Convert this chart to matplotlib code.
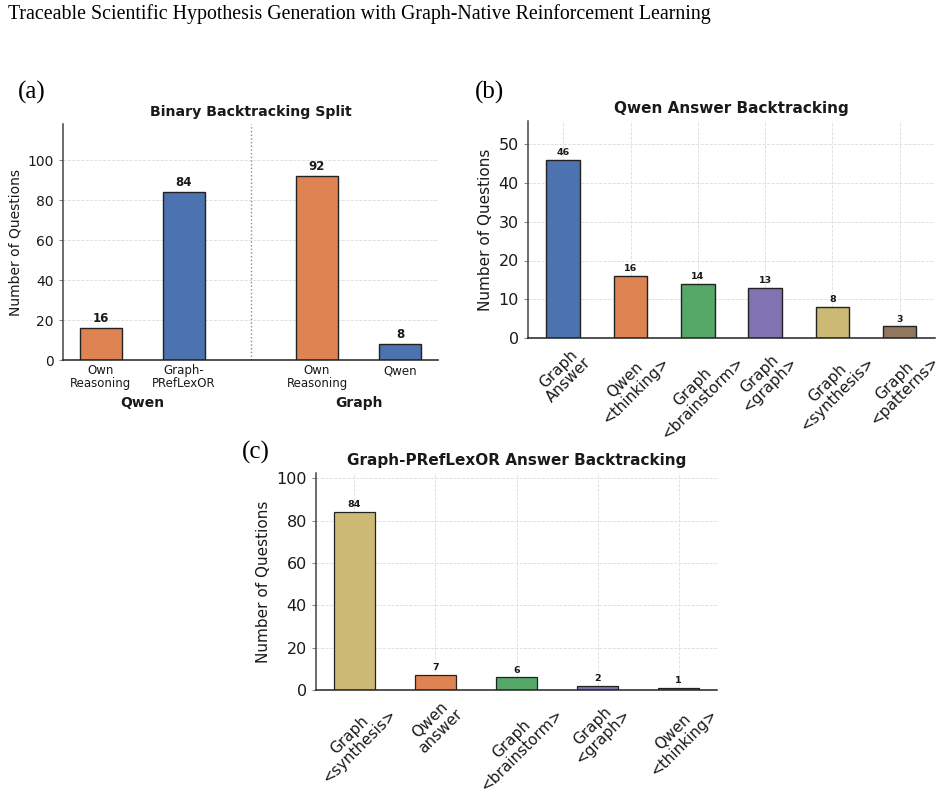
import matplotlib.pyplot as plt
import matplotlib.transforms as mtransforms

# palette (seaborn deep)
BLUE = '#4C72B0'
ORANGE = '#DD8452'
GREEN = '#55A868'
PURPLE = '#8172B3'
YELLOW = '#CCB974'
BROWN = '#937860'

# (a) binary split
a_labels = ['Own\nReasoning', 'Graph-\nPRefLexOR', 'Own\nReasoning', 'Qwen']
a_values = [16, 84, 92, 8]
a_pos = [0, 1, 2.6, 3.6]
a_colors = [ORANGE, BLUE, ORANGE, BLUE]
a_groups = ['Qwen', 'Graph']

# (b) qwen answer backtracking
b_labels = ['Graph\nAnswer', 'Qwen\n<thinking>', 'Graph\n<brainstorm>',
            'Graph\n<graph>', 'Graph\n<synthesis>', 'Graph\n<patterns>']
b_values = [46, 16, 14, 13, 8, 3]
b_colors = [BLUE, ORANGE, GREEN, PURPLE, YELLOW, BROWN]

# (c) graph-preflexor answer backtracking
c_labels = ['Graph\n<synthesis>', 'Qwen\nanswer', 'Graph\n<brainstorm>',
            'Graph\n<graph>', 'Qwen\n<thinking>']
c_values = [84, 7, 6, 2, 1]
c_colors = [YELLOW, ORANGE, GREEN, PURPLE, ORANGE]

plt.rcParams['text.color'] = '#1a1a1a'
plt.rcParams['axes.labelcolor'] = '#1a1a1a'
plt.rcParams['xtick.color'] = '#1a1a1a'
plt.rcParams['ytick.color'] = '#1a1a1a'

W, H = 943, 794
fig = plt.figure(figsize=(W / 100, H / 100), dpi=100)


def px_axes(left, top, right, bottom):
    return fig.add_axes([left / W, 1 - bottom / H, (right - left) / W, (bottom - top) / H])


def style(ax, both_grid):
    for s in ['top', 'right']:
        ax.spines[s].set_visible(False)
    ax.spines['left'].set_color('#444444')
    ax.spines['bottom'].set_color('#222222')
    ax.spines['left'].set_linewidth(1.1)
    ax.spines['bottom'].set_linewidth(1.1)
    ax.set_axisbelow(True)
    ax.grid(axis='both' if both_grid else 'y', linestyle='--', color='#dddddd', linewidth=0.6)


fig.text(8 / W, 1 - 14 / H, 'Traceable Scientific Hypothesis Generation with Graph-Native Reinforcement Learning',
         family='Liberation Serif', fontsize=14.3, va='center', ha='left', color='black')

# ---- (a)
ax = px_axes(63, 124, 438, 360)
ax.bar(a_pos, a_values, width=0.5, color=a_colors, edgecolor='#222222', linewidth=1)
for x, v in zip(a_pos, a_values):
    ax.text(x, v + 1.5, str(v), ha='center', va='bottom', fontsize=8.5, fontweight='bold')
ax.set_ylim(0, 118)
ax.set_yticks([0, 20, 40, 60, 80, 100])
ax.set_xticks(a_pos)
ax.set_xticklabels(a_labels, fontsize=8.5, linespacing=1.0)
ax.tick_params(axis='y', labelsize=10, length=3, color='#888888')
ax.tick_params(axis='x', length=0, pad=3)
ax.set_ylabel('Number of Questions', fontsize=10)
ax.set_title('Binary Backtracking Split', fontsize=10.2, fontweight='bold')
ax.axvline(1.8, color='#888888', linestyle=':', linewidth=1)
style(ax, False)
trans = mtransforms.blended_transform_factory(ax.transData, ax.transAxes)
ax.text((a_pos[0] + a_pos[1]) / 2, -0.182, a_groups[0], transform=trans, ha='center', va='center',
        fontsize=10, fontweight='bold')
ax.text((a_pos[2] + a_pos[3]) / 2, -0.182, a_groups[1], transform=trans, ha='center', va='center',
        fontsize=10, fontweight='bold')
fig.text(18 / W, 1 - 92 / H, '(a)', family='Liberation Serif', fontsize=18, va='center', ha='left',
         color='black')

# ---- (b)
ax = px_axes(528, 121, 935, 338)
xb = range(len(b_values))
ax.bar(xb, b_values, width=0.5, color=b_colors, edgecolor='#222222', linewidth=1)
for x, v in zip(xb, b_values):
    ax.text(x, v + 0.7, str(v), ha='center', va='bottom', fontsize=6.8, fontweight='bold')
ax.set_ylim(0, 56)
ax.set_yticks([0, 10, 20, 30, 40, 50])
ax.set_xticks(list(xb))
ax.set_xticklabels(b_labels, rotation=45, ha='center', fontsize=11, linespacing=1.0)
ax.tick_params(axis='y', labelsize=11.5, length=3, color='#888888')
ax.tick_params(axis='x', length=0, pad=4)
ax.set_ylabel('Number of Questions', fontsize=11)
ax.set_title('Qwen Answer Backtracking', fontsize=11, fontweight='bold')
style(ax, True)
fig.text(475 / W, 1 - 92 / H, '(b)', family='Liberation Serif', fontsize=18, va='center', ha='left',
         color='black')

# ---- (c)
ax = px_axes(316, 473, 717, 690)
xc = range(len(c_values))
ax.bar(xc, c_values, width=0.5, color=c_colors, edgecolor='#222222', linewidth=0.9)
for x, v in zip(xc, c_values):
    ax.text(x, v + 1.3, str(v), ha='center', va='bottom', fontsize=6.8, fontweight='bold')
ax.set_ylim(0, 102.5)
ax.set_yticks([0, 20, 40, 60, 80, 100])
ax.set_xticks(list(xc))
ax.set_xticklabels(c_labels, rotation=45, ha='center', fontsize=11, linespacing=1.0)
ax.tick_params(axis='y', labelsize=11.5, length=3, color='#888888')
ax.tick_params(axis='x', length=0, pad=4)
ax.set_ylabel('Number of Questions', fontsize=11)
ax.set_title('Graph-PRefLexOR Answer Backtracking', fontsize=11, fontweight='bold')
style(ax, True)
fig.text(242 / W, 1 - 452 / H, '(c)', family='Liberation Serif', fontsize=18, va='center', ha='left',
         color='black')

fig.savefig('out.png', dpi=100)
